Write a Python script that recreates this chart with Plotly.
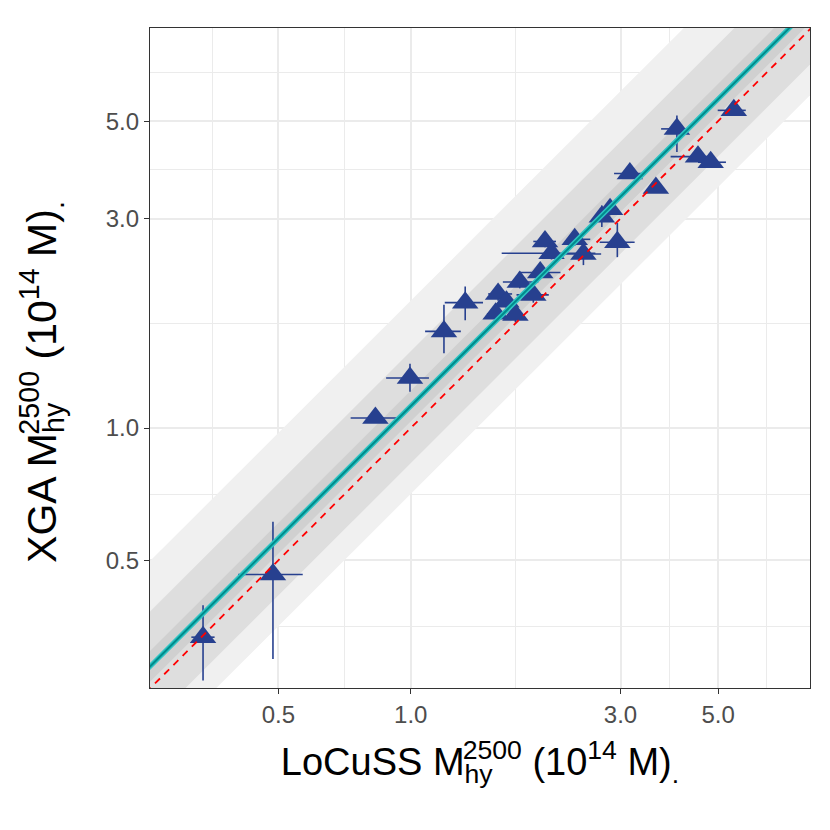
import numpy as np
import plotly.graph_objects as go

# LoCuSS vs XGA hydrostatic masses, units of 1e14 Msun
locuss_m = [5.43, 4.03, 4.50, 4.81, 3.15, 3.61, 2.84, 2.72, 2.95, 2.36, 2.02, 2.47, 2.09,
            1.97, 1.77, 1.90, 1.58, 1.65, 1.56, 1.73, 1.33, 1.19, 0.996, 0.831, 0.486, 0.337]
locuss_lo = [4.99, 3.71, 3.90, 4.50, 2.90, 3.55, 2.75, 2.64, 2.69, 2.28, 1.90, 2.22, 1.61,
             1.76, 1.62, 1.74, 1.50, 1.58, 1.49, 1.66, 1.195, 1.078, 0.879, 0.730, 0.405, 0.317]
locuss_hi = [5.78, 4.26, 4.78, 5.21, 3.43, 3.68, 2.93, 2.80, 3.23, 2.56, 2.14, 2.71, 2.63,
             2.19, 1.95, 2.06, 1.70, 1.72, 1.63, 1.80, 1.46, 1.30, 1.10, 0.931, 0.568, 0.358]
xga_m = [5.29, 4.80, 4.15, 4.03, 3.80, 3.52, 3.15, 3.03, 2.65, 2.69, 2.66, 2.49, 2.50,
         2.26, 2.15, 2.01, 2.02, 1.94, 1.82, 1.81, 1.93, 1.66, 1.30, 1.054, 0.464, 0.334]
xga_lo = [5.15, 4.25, 4.05, 3.95, 3.70, 3.45, 3.05, 2.87, 2.45, 2.60, 2.58, 2.35, 2.42,
          2.20, 2.08, 1.93, 1.95, 1.86, 1.74, 1.74, 1.76, 1.48, 1.21, 1.03, 0.298, 0.266]
xga_hi = [5.40, 5.15, 4.25, 4.10, 3.90, 3.60, 3.25, 3.21, 2.93, 2.78, 2.75, 2.64, 2.58,
          2.32, 2.22, 2.09, 2.10, 2.02, 1.90, 1.88, 2.10, 1.91, 1.40, 1.08, 0.612, 0.395]

# scaling relation fit (log space) and scatter bands around it (dex above / below)
fit_norm = 0.05
fit_slope = 1.0
band_upper = [0.24, 0.125, 0.035]
band_lower = [0.20, 0.13, 0.035]
band_colour = ["#f0f0f0", "#dedede", "#d0d0d0"]

tick_vals = [0.5, 1.0, 3.0, 5.0]
tick_text = ["0.5", "1.0", "3.0", "5.0"]

x_line = np.array([0.1, 20.0])


def relation(x, offset=0.0):
    return 10 ** (fit_norm + offset + fit_slope * np.log10(x))


def mass_label(survey, size, tail=0):
    # pull the superscript back over the subscript so they stack like plotmath;
    # 'tail' adds spacing after the last glyph to nudge the centred title along its axis
    back = round(0.78 * size)
    return (survey + " M<sub>h<span style='letter-spacing:-%dpx'>y</span></sub>" % back
            + "<sup>2500</sup> (10<sup>14</sup> M)"
            + "<sub><span style='letter-spacing:%dpx'>.</span></sub>" % tail)


fig = go.Figure()

for up, lo, c in zip(band_upper, band_lower, band_colour):
    fig.add_trace(go.Scatter(
        x=list(x_line) + list(x_line[::-1]),
        y=list(relation(x_line, up)) + list(relation(x_line[::-1], -lo)),
        fill="toself", fillcolor=c, mode="none", hoverinfo="skip", showlegend=False))

m = np.array(locuss_m)
y = np.array(xga_m)
fig.add_trace(go.Scatter(
    x=m, y=y, mode="markers",
    marker=dict(symbol="triangle-up", size=23, color="#27408f", line=dict(width=0)),
    error_x=dict(type="data", symmetric=False, array=np.array(locuss_hi) - m,
                 arrayminus=m - np.array(locuss_lo), width=0, thickness=1.6, color="#27408f"),
    error_y=dict(type="data", symmetric=False, array=np.array(xga_hi) - y,
                 arrayminus=y - np.array(xga_lo), width=0, thickness=1.6, color="#27408f"),
    showlegend=False))

fig.add_trace(go.Scatter(x=x_line, y=relation(x_line), mode="lines",
                         line=dict(color="#2ec4c4", width=5), showlegend=False))
fig.add_trace(go.Scatter(x=x_line, y=relation(x_line), mode="lines",
                         line=dict(color="#008b8b", width=2), showlegend=False))
fig.add_trace(go.Scatter(x=x_line, y=x_line, mode="lines",
                         line=dict(color="#ff0000", width=1.8, dash="7px,6px"), showlegend=False))

# ggplot style minor grid: geometric midpoints of the breaks
minor_vals = [tick_vals[0] / np.sqrt(2)] + [np.sqrt(a * b) for a, b in zip(tick_vals[:-1], tick_vals[1:])] \
    + [tick_vals[-1] * np.sqrt(5 / 3)]

axis_style = dict(
    type="log", tickmode="array", tickvals=tick_vals, ticktext=tick_text,
    showgrid=True, gridcolor="#ebebeb", gridwidth=1.8,
    minor=dict(tickmode="array", tickvals=minor_vals, showgrid=True, gridcolor="#ebebeb",
               gridwidth=0.9, ticklen=0),
    showline=True, mirror=True, linecolor="#333333", linewidth=1.3,
    ticks="outside", ticklen=5, tickwidth=1.3, tickcolor="#333333",
    tickfont=dict(size=24, color="#4d4d4d"), zeroline=False)

fig.update_xaxes(**axis_style, range=[-0.593, 0.908],
                 title=dict(text=mass_label("LoCuSS", 38), font=dict(size=38, color="black"), standoff=21))
fig.update_yaxes(**axis_style, range=[-0.592, 0.911],
                 title=dict(text=mass_label("XGA", 41, tail=48), font=dict(size=41, color="black"),
                            standoff=36))

# page body adds an 8px offset, so the margins are shifted by that much
fig.update_layout(
    width=830, height=830,
    margin=dict(l=142, r=28, t=20, b=150),
    plot_bgcolor="white", paper_bgcolor="white",
    font=dict(family="Liberation Sans, Arial, sans-serif"),
)

fig.write_html("out.html")
